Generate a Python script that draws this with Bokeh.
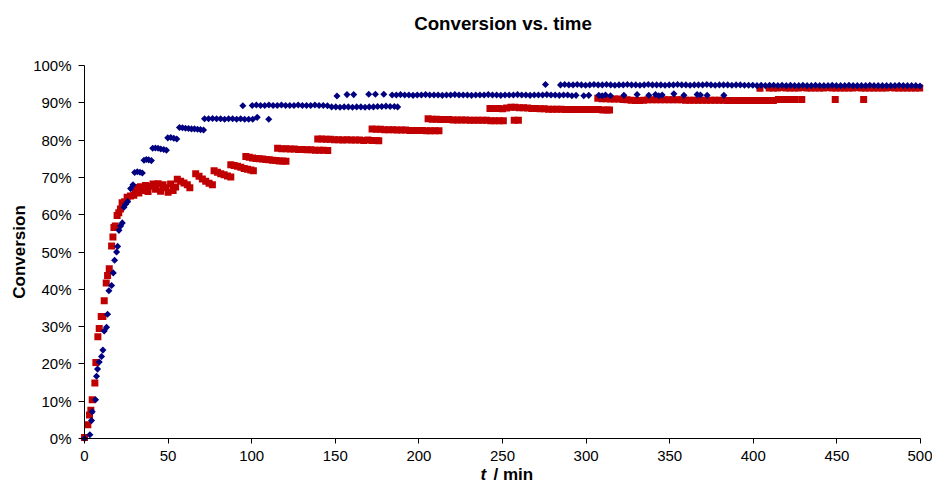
import math
from bokeh.plotting import figure
from bokeh.models import Range1d, FixedTicker, PrintfTickFormatter, Label
from bokeh.embed import file_html
from bokeh.resources import INLINE

# ---------------- data ----------------
x_ticks = [0, 50, 100, 150, 200, 250, 300, 350, 400, 450, 500]
y_ticks = [0, 10, 20, 30, 40, 50, 60, 70, 80, 90, 100]

# blue (navy diamonds) series: time [min], conversion [%]
blue_t_rise = [0, 3.2, 4.2, 4.6, 6.6, 7.2, 7.8, 8.8, 10.2, 11.0, 11.8, 13.2, 13.8, 14.6, 16.2, 17.2, 18.0,
               19.2, 19.8, 20.6, 21.6, 22.6, 23.6, 24.6, 25.8, 27.6, 29.0,
               30.0, 31.6, 33.2, 34.6,
               35.6, 37.0, 38.4, 40.0,
               40.8, 42.4, 44.0, 45.6, 47.4, 49.0,
               49.8, 51.6, 53.4, 55.2,
               56.8, 58.6, 60.4, 62.2, 64.0, 65.8, 67.6, 69.4, 71.2]
blue_c_rise = [0, 1.0, 4.8, 7.2, 10.4, 16.7, 18.6, 20.5, 22.0, 23.7, 28.8, 29.8, 33.3, 39.6, 41.0, 44.4, 47.8,
               50.0, 51.5, 55.8, 57.0, 57.8, 62.0, 62.8, 63.5, 67.0, 68.0,
               71.3, 71.5, 71.4, 71.2,
               74.6, 74.8, 74.7, 74.5,
               77.8, 77.9, 77.8, 77.6, 77.5, 77.3,
               80.6, 80.7, 80.5, 80.3,
               83.4, 83.3, 83.2, 83.1, 83.0, 83.0, 82.9, 82.8, 82.7]

blue_t_86 = [71.8, 74.2, 76.6, 79.0, 81.4, 83.8, 86.2, 88.6, 91.0, 93.4, 95.8, 98.2, 100.6, 103.3, 110.2]
blue_c_86 = [85.7, 85.7, 85.8, 85.7, 85.7, 85.6, 85.7, 85.7, 85.6, 85.7, 85.6, 85.6, 85.6, 86.1, 85.6]

blue_t_89 = [94.7, 100.3, 102.8, 105.3, 107.8, 110.3, 112.8, 115.3, 117.8, 120.3, 122.8, 125.3, 127.8, 130.3,
             132.8, 135.3, 137.8, 140.3, 142.8, 145.3,
             147.8, 150.3, 152.8, 155.3, 157.8, 160.3, 162.8, 165.3, 167.8, 170.3, 172.8,
             175.3, 177.8, 180.3, 182.8, 185.3, 187.3]
blue_c_89 = [89.2, 89.3, 89.4, 89.3, 89.3, 89.4, 89.3, 89.3, 89.4, 89.3, 89.3, 89.3, 89.4, 89.3,
             89.3, 89.3, 89.4, 89.3, 89.3, 89.2,
             88.9, 88.9, 88.8, 88.9, 88.9, 88.8, 88.9, 88.9, 88.8, 88.9, 88.9,
             89.0, 89.0, 89.1, 89.0, 89.0, 88.9]

blue_t_92 = [151.0, 157.0, 161.0, 170.0, 174.0, 179.0,
             184.0, 186.5, 189.0, 191.5, 194.0, 196.5, 199.0, 201.5, 204.0, 206.5,
             209.0, 211.5, 214.0, 216.5, 219.0, 221.5, 224.0, 226.5, 229.0, 231.5,
             234.0, 236.5, 239.0, 241.5, 244.0, 246.5, 249.0, 251.5, 254.0, 256.5,
             259.0, 261.5, 264.0, 266.5, 269.0, 271.5, 274.0, 276.5, 279.0, 281.5,
             284.0, 286.5, 289.0, 291.5, 294.0,
             298.6, 301.6, 307.6, 309.6, 311.6, 314.6, 322.6, 330.5, 337.5, 341.5,
             343.5, 345.5, 352.5, 358.5, 366.4, 368.4, 372.4, 382.4]
blue_c_92 = [91.8, 92.2, 92.2, 92.3, 92.3, 92.3,
             92.1, 92.1, 92.2, 92.1, 92.1, 92.0, 92.1, 92.1, 92.2, 92.1,
             92.1, 92.1, 92.0, 92.1, 92.1, 92.2, 92.1, 92.1, 92.1, 92.0,
             92.1, 92.1, 92.1, 92.2, 92.1, 92.1, 92.0, 92.1, 92.1, 92.1,
             92.2, 92.1, 92.1, 92.0, 92.1, 92.1, 92.1, 92.2, 92.1, 92.1,
             92.0, 92.1, 92.1, 91.9, 92.0,
             91.9, 92.0, 92.0, 91.9, 92.1, 91.9, 92.0, 92.2, 92.0, 92.2,
             91.9, 92.1, 92.4, 92.0, 92.2, 92.1, 92.0, 92.0]

blue_t_95 = [275.7, 284.7, 287.2, 289.7, 292.2, 294.7, 297.2, 299.7, 302.2, 304.7,
             307.2, 309.7, 312.2, 314.7, 317.2, 319.7, 322.2, 324.7, 327.2, 329.7,
             332.2, 334.7, 337.2, 339.7, 342.2, 344.7, 347.2, 349.7, 352.2, 354.7,
             357.2, 359.7, 362.2, 364.7, 367.2, 369.7, 372.2, 374.7, 377.2, 379.7,
             382.2, 384.7, 387.2, 389.7, 392.2, 394.7, 397.2, 399.7, 402.2, 404.7,
             407.2, 409.7, 412.2, 414.7, 417.2, 419.7, 422.2, 424.7, 427.2, 429.7,
             432.2, 434.7, 437.2, 439.7, 442.2, 444.7, 447.2, 449.7, 452.2, 454.7,
             457.2, 459.7, 462.2, 464.7, 467.2, 469.7, 472.2, 474.7, 477.2, 479.7,
             482.2, 484.7, 487.2, 489.7, 492.2, 494.7, 497.2, 499.7]
blue_c_95 = [94.9, 94.8, 94.9, 94.8, 94.8, 94.9, 94.8, 94.7, 94.8, 94.9,
             94.8, 94.8, 94.9, 94.8, 94.7, 94.8, 94.8, 94.9, 94.8, 94.8,
             94.7, 94.8, 94.9, 94.8, 94.8, 94.8, 94.7, 94.8, 94.8, 94.9,
             94.8, 94.8, 94.7, 94.8, 94.8, 94.8, 94.9, 94.8, 94.7, 94.8,
             94.8, 94.8, 94.7, 94.8, 94.8, 94.7, 94.7, 94.7, 94.6, 94.7,
             94.6, 94.7, 94.7, 94.6, 94.7, 94.6, 94.7, 94.6, 94.6, 94.7,
             94.6, 94.6, 94.7, 94.6, 94.6, 94.6, 94.7, 94.6, 94.6, 94.6,
             94.7, 94.6, 94.6, 94.6, 94.6, 94.7, 94.6, 94.6, 94.6, 94.6,
             94.6, 94.6, 94.7, 94.6, 94.6, 94.6, 94.6, 94.5]

# red (squares) series
red_t_rise = [0, 2.0, 3.0, 3.8, 4.6, 6.2, 6.8, 8.0, 8.8, 10.0, 11.0, 11.8, 13.0, 13.8, 14.8, 16.2, 17.0,
              17.6, 18.4, 19.5, 20.5, 21.5, 22.5, 24.0, 25.5, 27.5, 29.5]
red_c_rise = [0.3, 3.7, 6.3, 7.6, 10.4, 14.9, 20.4, 27.3, 29.5, 32.7, 32.7, 36.9, 41.7, 43.7, 45.5, 51.6, 54.0,
              56.6, 57.0, 59.8, 60.5, 61.5, 63.2, 63.5, 64.7, 65.0, 65.2]

red_t_67 = [30.5, 31.5, 32.5, 33.5, 35.0, 36.5, 38.0, 39.5, 41.0, 42.5, 44.0, 45.5, 47.0, 48.5, 50.0, 51.5, 53.0, 54.5]
red_c_67 = [66.0, 67.3, 65.8, 67.5, 66.5, 67.8, 66.2, 67.6, 68.2, 66.8, 68.3, 66.3, 68.0, 67.2, 66.0, 68.2, 66.5, 67.4]

red_t_70 = [55.5, 57.5, 59.5, 61.5, 63.0,
            66.5, 68.5, 70.5, 72.5, 74.5, 76.5,
            77.5, 79.5, 81.5, 83.5, 85.5, 87.5,
            87.5, 89.5, 91.5, 93.5, 95.5, 97.5, 99.5, 101.0]
red_c_70 = [69.5, 69.0, 68.5, 68.0, 67.2,
            71.0, 70.3, 69.6, 69.0, 68.4, 68.0,
            71.8, 71.4, 71.0, 70.7, 70.4, 70.1,
            73.4, 73.2, 73.0, 72.7, 72.4, 72.2, 72.0, 71.8]

red_t_75 = [96.5, 98.5, 100.5, 102.5, 104.5, 106.5, 108.5, 110.5, 112.5, 114.5, 116.5, 118.5, 120.5]
red_c_75 = [75.6, 75.4, 75.2, 75.1, 75.0, 74.9, 74.8, 74.7, 74.6, 74.5, 74.4, 74.4, 74.3]

red_t_77 = [115.5, 118.0, 120.5, 123.0, 125.5, 128.0, 130.5, 133.0, 135.5, 138.0, 140.5, 143.0, 145.5]
red_c_77 = [77.8, 77.7, 77.7, 77.6, 77.6, 77.5, 77.5, 77.4, 77.4, 77.3, 77.3, 77.3, 77.2]

red_t_80 = [139.5, 142.0, 144.5, 147.0, 149.5, 152.0, 154.5, 157.0, 159.5, 162.0, 164.5, 167.0, 169.5,
            172.0, 174.5, 176.0]
red_c_80 = [80.3, 80.3, 80.2, 80.2, 80.1, 80.1, 80.0, 80.1, 80.0, 80.0, 80.0, 79.9, 80.0,
            79.9, 79.9, 79.8]

red_t_83 = [172.0, 174.5, 177.0, 179.5, 182.0, 184.5, 187.0, 189.5, 192.0, 194.5, 197.0, 199.5, 202.0,
            204.5, 207.0, 209.5, 212.0]
red_c_83 = [83.0, 82.9, 82.9, 82.8, 82.8, 82.8, 82.7, 82.7, 82.7, 82.6, 82.6, 82.6, 82.6,
            82.5, 82.5, 82.5, 82.5]

red_t_85 = [205.5, 208.0, 210.5, 213.0, 215.5, 218.0, 220.5, 223.0, 225.5, 228.0, 230.5, 233.0, 235.5,
            238.0, 240.5, 243.0, 245.5, 248.0, 250.5, 257.0, 259.5]
red_c_85 = [85.7, 85.6, 85.6, 85.5, 85.5, 85.5, 85.4, 85.4, 85.4, 85.4, 85.3, 85.3, 85.3,
            85.3, 85.3, 85.2, 85.2, 85.2, 85.2, 85.3, 85.3]

red_t_88 = [242.5, 245.0, 247.5, 250.0, 252.5, 255.0, 257.5, 260.0, 262.5, 265.0,
            267.5, 270.0, 272.5, 275.0, 277.5, 280.0, 282.5, 285.0, 287.5, 290.0,
            292.5, 295.0, 297.5, 300.0, 302.5, 305.0, 307.5, 310.0, 312.5, 314.0]
red_c_88 = [88.5, 88.5, 88.5, 88.4, 88.6, 88.8, 88.8, 88.7, 88.7, 88.6,
            88.5, 88.5, 88.4, 88.4, 88.3, 88.3, 88.3, 88.3, 88.2, 88.2,
            88.2, 88.2, 88.2, 88.2, 88.2, 88.2, 88.2, 88.1, 88.1, 88.1]

red_t_91 = [307.0, 309.5, 312.0, 314.5, 317.0, 319.5, 322.0, 324.5, 327.0, 329.5, 332.0, 334.5,
            337.0, 339.5, 342.0, 344.5, 347.0, 349.5, 352.0, 354.5, 357.0,
            359.5, 362.0, 364.5, 367.0, 369.5, 372.0, 374.5, 377.0, 379.5, 382.0,
            384.5, 387.0, 389.5, 392.0, 394.5, 397.0, 399.5, 402.0, 404.5, 407.0, 409.5, 412.0,
            415.0, 417.5, 420.0, 422.5, 425.0, 429.0, 449.0, 466.0]
red_c_91 = [91.2, 91.1, 91.1, 91.0, 91.0, 91.0, 90.9, 90.8, 90.7, 90.6, 90.6, 90.7,
            90.8, 90.8, 90.8, 90.8, 90.8, 90.8, 90.8, 90.8, 90.8,
            90.7, 90.7, 90.7, 90.7, 90.7, 90.7, 90.7, 90.7, 90.7, 90.7,
            90.6, 90.6, 90.6, 90.6, 90.6, 90.6, 90.6, 90.6, 90.6, 90.6, 90.6, 90.6,
            90.9, 90.9, 90.9, 90.9, 90.9, 90.9, 90.9, 90.9]

red_t_94 = [404.0, 409.5, 412.0, 414.5, 417.0, 419.5, 422.0, 424.5, 427.0, 429.5,
            432.0, 434.5, 437.0, 439.5, 442.0, 444.5, 447.0, 449.5, 452.0, 454.5,
            457.0, 459.5, 462.0, 464.5, 467.0, 469.5, 472.0, 474.5, 477.0, 479.5,
            482.0, 484.5, 487.0, 489.5, 492.0, 494.5, 497.0, 499.5]
red_c_94 = [93.9, 94.0, 94.0, 94.0, 94.1, 94.0, 94.0, 94.0, 94.0, 94.1,
            94.0, 94.0, 94.0, 94.0, 94.0, 94.1, 94.0, 94.0, 94.0, 94.0,
            94.0, 94.0, 94.1, 94.0, 94.0, 94.0, 94.0, 94.0, 94.0, 94.0,
            94.1, 94.0, 94.0, 94.0, 94.0, 94.0, 94.0, 94.0]

blue_t = blue_t_rise + blue_t_86 + blue_t_89 + blue_t_92 + blue_t_95
blue_c = blue_c_rise + blue_c_86 + blue_c_89 + blue_c_92 + blue_c_95
red_t = red_t_rise + red_t_67 + red_t_70 + red_t_75 + red_t_77 + red_t_80 + red_t_83 + red_t_85 + red_t_88 + red_t_91 + red_t_94
red_c = red_c_rise + red_c_67 + red_c_70 + red_c_75 + red_c_77 + red_c_80 + red_c_83 + red_c_85 + red_c_88 + red_c_91 + red_c_94

# ---------------- figure ----------------
FONT = "Liberation Sans"
W, H = 932, 487
PX_PER_PCT = 3.73          # vertical scale of the plot area
Y0_PX = 438                # pixel row of 0 %
PX_PER_MIN = 1.672         # horizontal scale
X0_PX = 84                 # pixel column of t = 0

# the frame covers the whole canvas; the axes sit at t = 0 and 0 %
x_lo, x_hi = -X0_PX / PX_PER_MIN, (W - X0_PX) / PX_PER_MIN
y_lo, y_hi = -(H - Y0_PX) / PX_PER_PCT, Y0_PX / PX_PER_PCT

p = figure(width=W, height=H, x_range=Range1d(x_lo, x_hi), y_range=Range1d(y_lo, y_hi),
           output_backend="svg", toolbar_location=None,
           min_border_left=0, min_border_right=0, min_border_top=0, min_border_bottom=0)
p.outline_line_color = None
p.grid.visible = False
p.background_fill_color = "white"
p.border_fill_color = "white"

p.scatter(red_t, red_c, marker="square", size=7, fill_color="#C00000", line_color=None)
p.scatter(blue_t, blue_c, marker="square", angle=math.pi / 4, size=5, fill_color="#000080", line_color=None)

for ax in (p.xaxis[0], p.yaxis[0]):
    ax.fixed_location = 0
    ax.axis_line_color = "black"
    ax.axis_line_width = 1
    ax.major_tick_line_color = "black"
    ax.major_tick_in = 0
    ax.minor_tick_in = 0
    ax.minor_tick_out = 0
    ax.major_label_text_font = FONT
    ax.major_label_text_font_size = "15px"
    ax.major_label_text_color = "black"

p.xaxis.bounds = (0, 500)
p.xaxis.ticker = FixedTicker(ticks=x_ticks)
p.xaxis.major_tick_out = 5
p.xaxis.major_label_standoff = 7

p.yaxis.bounds = (0, 100)
p.yaxis.ticker = FixedTicker(ticks=y_ticks)
p.yaxis.formatter = PrintfTickFormatter(format="%d%%")
p.yaxis.major_tick_out = 6
p.yaxis.major_label_standoff = 7
p.yaxis.axis_label = "Conversion"
p.yaxis.axis_label_text_font = FONT
p.yaxis.axis_label_text_font_size = "17px"
p.yaxis.axis_label_text_font_style = "bold"
p.yaxis.axis_label_text_color = "black"
p.yaxis.axis_label_standoff = 1

title = Label(x=250.3, y=(Y0_PX - 23.0) / PX_PER_PCT, text="Conversion vs. time",
              text_align="center", text_baseline="alphabetic",
              text_font=FONT, text_font_size="18.7px", text_font_style="bold", text_color="black")
xl_t = Label(x=236.8, y=(Y0_PX - 473.5) / PX_PER_PCT, text="t", text_align="left", text_baseline="alphabetic",
             text_font=FONT, text_font_size="17px", text_font_style="bold italic", text_color="black")
xl_min = Label(x=244.6, y=(Y0_PX - 473.5) / PX_PER_PCT, text="/ min", text_align="left", text_baseline="alphabetic",
               text_font=FONT, text_font_size="17px", text_font_style="bold", text_color="black")
for lab in (title, xl_t, xl_min):
    p.add_layout(lab)

open("out.html", "w").write(file_html(p, INLINE))
